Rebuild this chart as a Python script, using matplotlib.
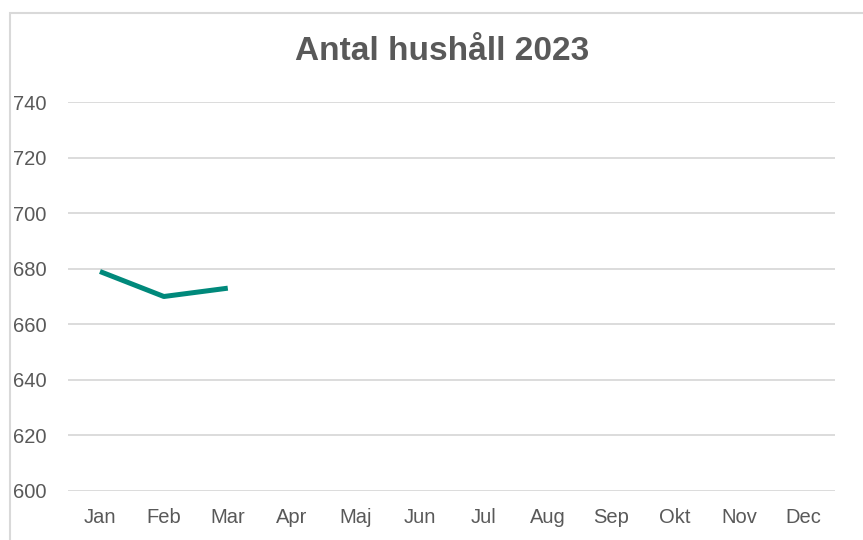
import matplotlib
matplotlib.use("Agg")
import matplotlib.pyplot as plt
import matplotlib.transforms as mtrans
from matplotlib.patches import Rectangle

months = ["Jan", "Feb", "Mar", "Apr", "Maj", "Jun", "Jul", "Aug", "Sep", "Okt", "Nov", "Dec"]
values = [679, 670, 673]
yticks = [600, 620, 640, 660, 680, 700, 720, 740]
title = "Antal hushåll 2023"

plt.rcParams['font.family'] = ['Liberation Sans', 'DejaVu Sans']

W, H = 863, 540
fig = plt.figure(figsize=(W / 100, H / 100), dpi=100)

# chart frame
fig.patches.append(Rectangle((10 / W, -0.1), 1.2, 1 - 13 / H + 0.1, transform=fig.transFigure,
                             fill=False, edgecolor="#d9d9d9", linewidth=1.5))

left, right = 68 / W, 835 / W
bottom, top = 1 - 491 / H, 1 - 102 / H
ax = fig.add_axes([left, bottom, right - left, top - bottom])

x = list(range(len(months)))
ax.plot(x[:len(values)], values, color="#00897b", linewidth=3.6, solid_capstyle="butt",
        solid_joinstyle="round")

ax.set_xlim(-0.5, len(months) - 0.5)
ax.set_ylim(600, 740)
ax.set_yticks(yticks)
ax.set_xticks(x)
ax.set_xticklabels(months)
ax.grid(axis="y", color="#d9d9d9", linewidth=1.3)
ax.set_axisbelow(True)
for s in ax.spines.values():
    s.set_visible(False)
ax.tick_params(axis="both", length=0, labelsize=14.5, colors="#595959")
ax.tick_params(axis="x", pad=12)
ax.tick_params(axis="y", pad=0)
for t in ax.yaxis.get_major_ticks():
    t.label1.set_horizontalalignment("left")
    t.label1.set_transform(mtrans.blended_transform_factory(fig.transFigure, ax.transData))
    t.label1.set_x(13 / W)

fig.text(442 / W, 1 - 52 / H, title, ha="center", va="center",
         fontsize=24, fontweight="bold", color="#595959")

fig.savefig("out.png", dpi=100)
